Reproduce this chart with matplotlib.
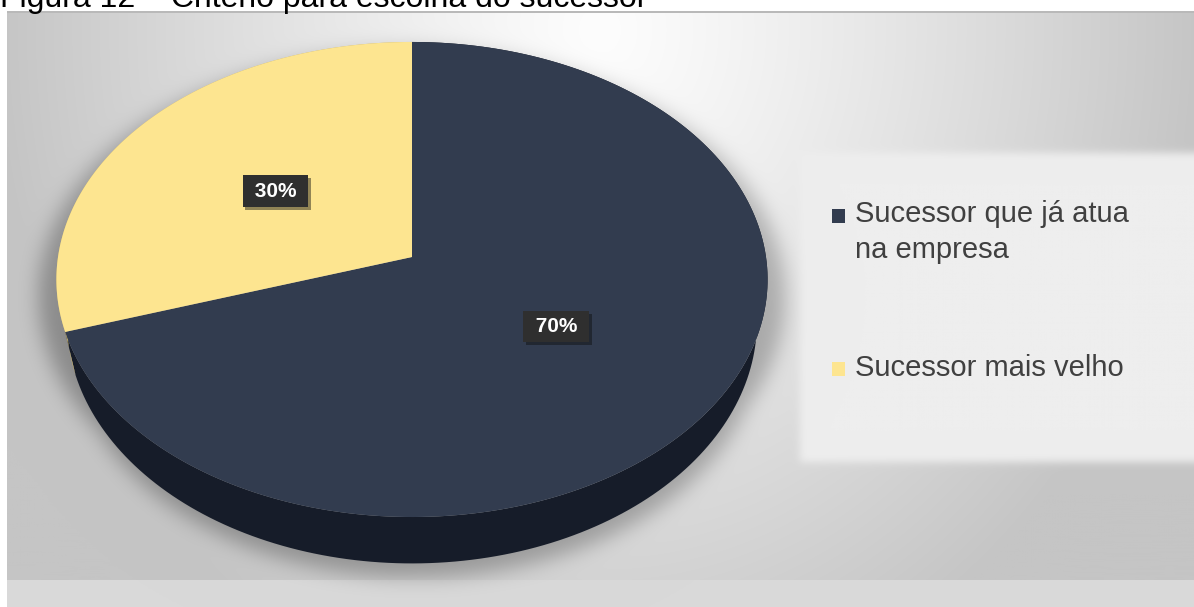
import numpy as np
import matplotlib
matplotlib.use('Agg')
import matplotlib.pyplot as plt
from matplotlib.patches import Polygon
from matplotlib.path import Path
import matplotlib.patheffects as pe

# data
categories = ['Sucessor que já atua\nna empresa', 'Sucessor mais velho']
shares = [70, 30]
labels = ['70%', '30%']
top_colors = ['#323c4f', '#fde590']
side_colors = ['#161c29', '#c9b26a']
title = 'Figura 12 – Critério para escolha do sucessor'

W, H = 1194, 607

# 3d pie geometry (pixels)
CX, CY = 412, 257
RX, RY = 354, 235.4
DEPTH = 10.56      # camera distance in pie radii
THICK = 42.0       # side wall height
SHRINK = 0.03      # bottom face is a bit narrower (farther away)


def project(theta, r=1.0, drop=0.0):
    u = r * np.cos(theta)
    v = r * np.sin(theta)
    s = DEPTH / (DEPTH + v)
    return (CX + RX * u * s * (1 - SHRINK * drop),
            CY - RY * v * s + drop * THICK * s)


def blur(a, sigma):
    p = 80
    a = np.pad(a, p, mode='edge')
    ky = np.fft.fftfreq(a.shape[0])
    kx = np.fft.rfftfreq(a.shape[1])
    g = np.exp(-2 * (np.pi * sigma) ** 2 * (ky[:, None] ** 2 + kx[None, :] ** 2))
    out = np.fft.irfft2(np.fft.rfft2(a) * g, s=a.shape)
    return out[p:-p, p:-p]


def inside(xs, ys, px, py):
    path = Path(np.column_stack([xs, ys]))
    pts = np.column_stack([px.ravel(), py.ravel()])
    return path.contains_points(pts).reshape(px.shape)


# background: grey-white gradient, legend panel, pie shadow
yy, xx = np.mgrid[0:H, 0:W] + 0.5
d = np.hypot((xx - 600) / 600, (yy - 30) / 700)
bg = 253 - 56 * np.clip(d, 0, 1.0) ** 1.2

panel = ((xx > 800) & (yy > 153) & (yy < 462)).astype(float)
panel = blur(panel, 4)
bg = bg * (1 - panel) + 238 * panel
bg[yy > 580] = np.maximum(bg[yy > 580], 217)

t = np.linspace(0, 2 * np.pi, 400)
tx, ty = project(t)
bx, by = project(t, drop=1)
sx = CX + (tx - CX) * 1.05
sy = CY + (ty - CY) * 1.04 + 16
shadow = (inside(sx, sy, xx, yy) | inside(bx + 4, by + 14, xx, yy)).astype(float)
shadow = blur(shadow, 10)
bg = bg - 58 * shadow

bg[:, :7] = 255
bg[:11, :] = 255
bg[11:13, 7:] = 185
bg = np.clip(bg, 0, 255) / 255.0

fig = plt.figure(figsize=(W / 100, H / 100), dpi=100)
ax = fig.add_axes([0, 0, 1, 1])
ax.imshow(np.dstack([bg] * 3), extent=(0, W, H, 0), interpolation='bilinear', zorder=0)
ax.set_xlim(0, W)
ax.set_ylim(H, 0)
ax.axis('off')

# wedges clockwise from 12 o'clock
bounds = np.deg2rad(90 - np.concatenate([[0], np.cumsum(shares)]) * 3.6)
for i in range(len(shares)):
    th = np.linspace(bounds[i + 1], bounds[i], 200)
    x0, y0 = project(th)
    x1, y1 = project(th, drop=1)
    side = np.column_stack([np.r_[x0, x1[::-1]], np.r_[y0, y1[::-1]]])
    ax.add_patch(Polygon(side, closed=True, fc=side_colors[i], ec='none', zorder=2))
for i in range(len(shares)):
    th = np.linspace(bounds[i + 1], bounds[i], 200)
    x0, y0 = project(th)
    face = np.column_stack([np.r_[CX, x0], np.r_[CY, y0]])
    ax.add_patch(Polygon(face, closed=True, fc=top_colors[i], ec='none', zorder=3))

# value labels at the middle of each wedge
for i in range(len(shares)):
    mid = (bounds[i] + bounds[i + 1]) / 2
    lx, ly = project(mid, r=0.49)
    txt = ax.text(lx, ly, ' ' + labels[i] + ' ', color='white', fontsize=15,
                  fontweight='bold', family='Liberation Sans', ha='center', va='center',
                  zorder=5,
                  bbox=dict(boxstyle='square,pad=0.3', fc='#2f2f2f', ec='none'))
    txt.get_bbox_patch().set_path_effects(
        [pe.SimplePatchShadow(offset=(2, -2), alpha=0.45), pe.Normal()])

# legend
leg_y = [216, 369]
line_h = 35
for i, name in enumerate(categories):
    ax.scatter([838.5], [leg_y[i]], marker='s', s=88, color=top_colors[i],
               edgecolors='none', zorder=5)
    nlines = name.count('\n')
    ax.text(855, leg_y[i] + 7 + line_h * nlines, name, fontsize=21,
            family='Liberation Sans', color='#404040', ha='left', va='baseline',
            linespacing=1.35, zorder=5)

fig.text(0.0, 1 - 7.5 / H, title, fontsize=23, family='Liberation Sans',
         color='black', ha='left', va='baseline')

fig.savefig('out.png', dpi=100)
